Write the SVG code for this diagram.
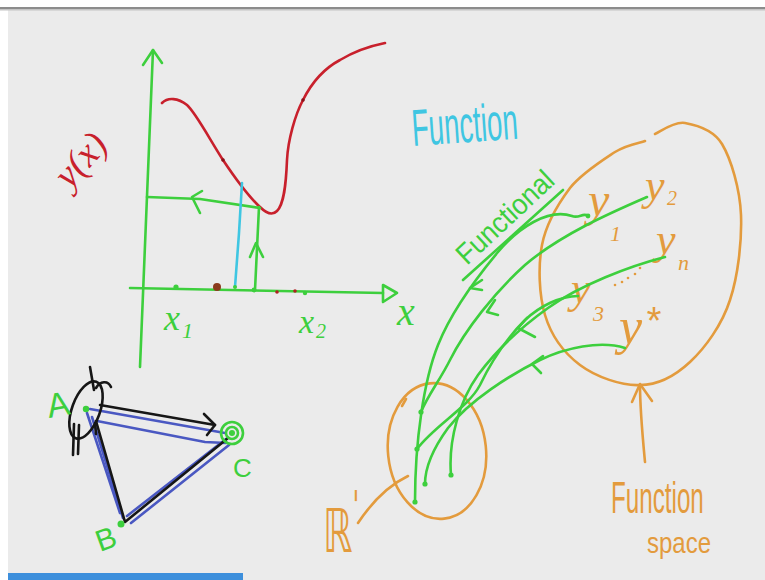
<svg xmlns="http://www.w3.org/2000/svg" width="765" height="580" viewBox="0 0 765 580">
<style>
.s{fill:none;stroke-linecap:round;stroke-linejoin:round;stroke-width:2.6}
.gr{stroke:#3dcf3d}
.rd{stroke:#c8202c}
.cy{stroke:#3fc6e2}
.or{stroke:#e39b3d}
.bk{stroke:#161616}
.bl{stroke:#4a58c2}
.tg{fill:#3dcf3d}
.to{fill:#e39b3d}
.mi{font-family:"Liberation Serif",serif;font-style:italic}
.hs{font-family:"Liberation Sans",sans-serif}
</style>
<rect x="0" y="0" width="765" height="580" fill="#ffffff"/>
<rect x="8" y="9" width="757" height="571" fill="#ebebeb"/>
<rect x="0" y="7" width="765" height="2" fill="#8c8c8c"/>
<rect x="0" y="9" width="765" height="1.5" fill="#c4c4c4"/>
<rect x="8" y="573" width="235" height="7" fill="#3d8fdc"/>

<g id="plot">
  <path class="s gr" d="M153,50 L140,367"/>
  <path class="s gr" d="M143,65 L153,50 L162,63"/>
  <path class="s gr" d="M130,288 L383,293"/>
  <path class="s gr" d="M383,285 L397,293 L383,302 Z"/>
  <path class="s rd" d="M162,103 C168,97 178,98 187,105 C196,113 210,140 223,160 C233,175 248,196 260,207 C266,213 272,216 277,211 C284,204 286,185 287,160 C288,140 295,115 303,100 C312,82 325,68 340,60 C355,51 370,46 385,43"/>
  <circle cx="223" cy="160" r="1.8" fill="#8a1018"/>
  <circle cx="303" cy="100" r="1.8" fill="#8a1018"/>
  <path class="s gr" d="M147,197 L200,199 L260,208"/>
  <path class="s gr" d="M202,191 L192,197 L200,213"/>
  <path class="s gr" d="M255,290 L259,207"/>
  <path class="s gr" d="M250,257 L256,243 L263,257"/>
  <path class="s cy" d="M235,287 L239,233 L242,183"/>
  <circle cx="176" cy="287" r="2.6" class="tg"/>
  <circle cx="217" cy="287" r="4" fill="#8b3a1c"/>
  <circle cx="235" cy="287" r="2" class="tg"/>
  <circle cx="254" cy="290" r="2.4" class="tg"/>
  <circle cx="277" cy="292" r="1.8" fill="#b02020"/>
  <circle cx="295" cy="291" r="1.8" fill="#b02020"/>
  <circle cx="305" cy="293" r="2.2" class="tg"/>
  <text class="mi tg" x="164" y="330" font-size="36">x<tspan font-size="22" x="182" y="338">1</tspan></text>
  <text class="mi tg" x="299" y="333" font-size="34">x<tspan font-size="20" x="316" y="338">2</tspan></text>
  <text class="mi tg" x="397" y="325" font-size="40">x</text>
  <text class="mi" fill="#c8202c" font-size="38" transform="translate(70,190) rotate(-48)">y(x)</text>
</g>

<g id="function-label">
  <text class="hs" fill="#3fc6e2" font-size="52" textLength="106" lengthAdjust="spacingAndGlyphs" transform="translate(413,146) rotate(-4)">Function</text>
</g>

<g id="function-space">
  <path class="s or" d="M655,134 C660,132 674,121 685,123 C696,125 713,129 722,144 C731,159 740,189 741,215 C742,241 738,276 730,300 C722,325 705,348 690,362 C675,376 658,385 640,385 C622,386 596,377 580,365 C564,353 551,335 545,315 C539,295 538,266 542,245 C546,224 558,204 570,188 C582,173 603,160 615,152 C628,144 640,143 645,141"/>
  <text class="mi to" x="588" y="216" font-size="48">y<tspan font-size="22" x="610" y="241">1</tspan></text>
  <text class="mi to" x="645" y="200" font-size="44">y<tspan font-size="20" x="667" y="205">2</tspan></text>
  <text class="mi to" x="656" y="254" font-size="44">y<tspan font-size="22" x="678" y="270">n</tspan></text>
  <text class="mi to" x="571" y="303" font-size="44">y<tspan font-size="22" x="593" y="321">3</tspan></text>
  <text class="mi to" x="619" y="344" font-size="52">y<tspan class="hs" font-size="38" x="645" y="334">*</tspan></text>
  <circle cx="615" cy="285" r="1.3" class="to"/>
  <circle cx="622" cy="282" r="1.3" class="to"/>
  <circle cx="628" cy="278" r="1.3" class="to"/>
  <circle cx="635" cy="274" r="1.3" class="to"/>
  <circle cx="640" cy="268" r="1.3" class="to"/>
  <path class="s or" d="M645,462 C642,430 640,410 640,385"/>
  <path class="s or" d="M632,402 L640,384 L652,401"/>
  <text class="hs to" font-size="44" transform="translate(611,513) scale(0.55,1)">Function</text>
  <text class="hs to" font-size="30" transform="translate(647,553) scale(0.8,1)">space</text>
</g>

<g id="r1">
  <ellipse class="s or" cx="437" cy="451" rx="49" ry="68" transform="rotate(-6 437 451)"/>
  <path class="s or" d="M402,406 L406,399"/>
  <path class="s or" d="M358,523 C370,505 385,487 408,476"/>
  <text font-family="DejaVu Sans,sans-serif" class="to" font-size="60" transform="translate(323,552) scale(0.62,1)">ℝ<tspan font-size="40" dy="-32">'</tspan></text>
</g>

<g id="functionals">
  <path class="s gr" d="M463,280 L563,190"/>
  <text class="hs tg" font-size="29" textLength="122" lengthAdjust="spacingAndGlyphs" transform="translate(467,266) rotate(-43)">Functional</text>
  <path class="s gr" d="M588,216 C583,212 579,219 572,216 C548,208 518,228 498,252 C478,276 452,310 438,345 C424,380 415,440 415,502"/>
  <path class="s gr" d="M482,280 L470,288 L482,290"/>
  <path class="s gr" d="M647,197 C610,213 560,235 525,265 C495,292 465,330 450,360 C440,380 428,395 421,412"/>
  <path class="s gr" d="M495,300 L487,312 L498,315"/>
  <path class="s gr" d="M665,257 C630,266 580,285 548,308 C520,328 495,352 478,375 C460,400 448,440 451,475"/>
  <path class="s gr" d="M578,296 C560,296 540,306 525,320 C505,340 492,360 480,385 C468,408 435,425 417,449"/>
  <path class="s gr" d="M527,318 L518,328 L535,337"/>
  <path class="s gr" d="M625,348 C600,340 565,348 540,360 C510,375 470,400 448,428 C432,450 425,468 425,484"/>
  <path class="s gr" d="M543,356 L532,364 L541,373"/>
  <circle cx="588" cy="216" r="2.4" class="tg"/>
  <circle cx="415" cy="502" r="2.6" class="tg"/>
  <circle cx="421" cy="412" r="2.6" class="tg"/>
  <circle cx="451" cy="475" r="2.6" class="tg"/>
  <circle cx="417" cy="449" r="2.6" class="tg"/>
  <circle cx="425" cy="484" r="2.6" class="tg"/>
</g>

<g id="triangle">
  <path class="s bl" d="M90,409 L225,433"/>
  <path class="s bl" d="M97,421 L205,442 L226,443"/>
  <path class="s bl" d="M87,413 L120,513"/>
  <path class="s bl" d="M92,417 L123,518"/>
  <path class="s bl" d="M127,516 L226,439"/>
  <path class="s bl" d="M131,523 L229,445"/>
  <ellipse class="s bk" cx="86" cy="410" rx="14" ry="30" transform="rotate(20 86 410)"/>
  <path class="s bk" d="M90,367 L94,390"/>
  <path class="s bk" d="M96,388 C100,381 108,380 111,387"/>
  <path class="s bk" d="M74,424 L73,455 M79,425 L78,454 M95,423 L96,434"/>
  <path class="s bk" d="M100,405 L215,425"/>
  <path class="s bk" d="M204,414 L215,425 L207,435"/>
  <path class="s bk" d="M96,421 L125,522 L228,438"/>
  <circle cx="86" cy="409" r="3.2" class="tg"/>
  <circle cx="121" cy="524" r="3.5" class="tg"/>
  <circle class="s gr" cx="232" cy="433" r="11"/>
  <circle class="s gr" cx="232" cy="433" r="6"/>
  <circle cx="232" cy="433" r="3" class="tg"/>
  <text class="hs tg" font-size="34" transform="translate(49,418) rotate(-10)">A</text>
  <text class="hs tg" font-size="26" x="233" y="477">C</text>
  <text class="hs tg" font-size="30" transform="translate(100,552) rotate(-20)">B</text>
</g>
</svg>
